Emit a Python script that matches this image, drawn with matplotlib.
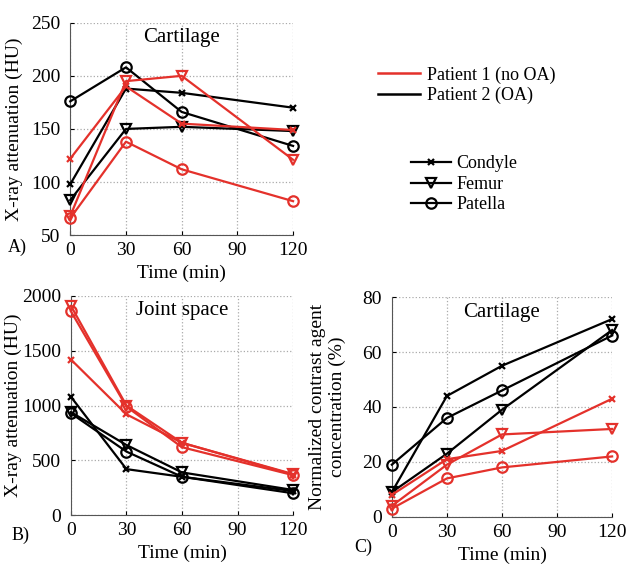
import matplotlib.pyplot as plt
from matplotlib.lines import Line2D

plt.rcParams['font.family'] = ['Liberation Serif', 'DejaVu Serif']

time = [0, 30, 60, 120]
xticks = [0, 30, 60, 90, 120]
red = "#e4312b"

# panel A: cartilage attenuation (HU)
a_p1 = {"Condyle": [122, 190, 155, 149],
        "Femur": [68, 195, 200, 121],
        "Patella": [66, 138, 112, 82]}
a_p2 = {"Condyle": [98, 188, 184, 170],
        "Femur": [83, 150, 152, 148],
        "Patella": [176, 208, 166, 134]}

# panel B: joint space attenuation (HU)
b_p1 = {"Condyle": [1420, 920, 660, 370],
        "Femur": [1910, 1000, 660, 375],
        "Patella": [1860, 990, 620, 365]}
b_p2 = {"Condyle": [1080, 420, 350, 220],
        "Femur": [940, 640, 390, 230],
        "Patella": [930, 580, 350, 200]}

# panel C: normalized concentration (%)
c_p1 = {"Condyle": [8, 21, 24, 43],
        "Femur": [4, 19, 30, 32],
        "Patella": [3, 14, 18, 22]}
c_p2 = {"Condyle": [9, 44, 55, 72],
        "Femur": [9, 23, 39, 68],
        "Patella": [19, 36, 46, 66]}

markers = {"Condyle": "x", "Femur": "v", "Patella": "o"}
msizes = {"Condyle": 5, "Femur": 7.5, "Patella": 7.5}


def draw(ax, p1, p2, ylim, yticks, title, ylabel, ylabelpad):
    for data, col in [(p2, "black"), (p1, red)]:
        for name, vals in data.items():
            ax.plot(time, vals, color=col, lw=1.6, marker=markers[name],
                    ms=msizes[name], mfc="none", mew=1.6, clip_on=False, zorder=3)
    ax.set_xlim(0, 120)
    ax.set_ylim(*ylim)
    ax.set_xticks(xticks)
    ax.set_yticks(yticks)
    ax.grid(True, ls=":", color="#aaaaaa", lw=0.9)
    for s in ["top", "right"]:
        ax.spines[s].set_visible(False)
    for s in ["left", "bottom"]:
        ax.spines[s].set_color("#555555")
    ax.tick_params(axis="x", direction="in", length=3, labelsize=14, pad=5)
    ax.tick_params(axis="y", direction="in", length=3, labelsize=14, pad=7)
    ax.set_xlabel("Time (min)", fontsize=14, labelpad=4)
    ax.set_ylabel(ylabel, fontsize=14, labelpad=ylabelpad)
    ax.text(0.5, 0.975, title, transform=ax.transAxes, ha="center", va="top",
            fontsize=15)


fig = plt.figure(figsize=(6.33, 5.68), dpi=100)

ax_a = fig.add_axes([0.111, 0.586, 0.352, 0.374])
draw(ax_a, a_p1, a_p2, (50, 250), [50, 100, 150, 200, 250], "Cartilage",
     "X-ray attenuation (HU)", 6)

ax_b = fig.add_axes([0.112, 0.093, 0.351, 0.386])
draw(ax_b, b_p1, b_p2, (0, 2000), [0, 500, 1000, 1500, 2000], "Joint space",
     "X-ray attenuation (HU)", 0)

ax_c = fig.add_axes([0.619, 0.090, 0.348, 0.387])
draw(ax_c, c_p1, c_p2, (0, 80), [0, 20, 40, 60, 80], "Cartilage",
     "Normalized contrast agent\nconcentration (%)", 12)

fig.text(8 / 633, 1 - 247 / 568, "A)", fontsize=13, va="center")
fig.text(12 / 633, 1 - 535 / 568, "B)", fontsize=13, va="center")
fig.text(354 / 633, 1 - 547 / 568, "C)", fontsize=13, va="center")

pat_handles = [Line2D([], [], color=red, lw=1.8),
               Line2D([], [], color="black", lw=1.8)]
fig.legend(pat_handles, ["Patient 1 (no OA)", "Patient 2 (OA)"],
           loc="upper left", bbox_to_anchor=(362 / 633, 1 - 50 / 568),
           frameon=False, fontsize=13, handlelength=2.3,
           handletextpad=0.4, labelspacing=0.2)

mk_handles = [Line2D([], [], color="black", lw=1.6, marker=markers[n],
                     ms=msizes[n], mfc="none", mew=1.6) for n in markers]
fig.legend(mk_handles, list(markers), loc="upper left",
           bbox_to_anchor=(395 / 633, 1 - 139 / 568), frameon=False,
           fontsize=13, handlelength=2.2, handletextpad=0.3,
           labelspacing=0.2)

plt.savefig("out.png", dpi=100)
